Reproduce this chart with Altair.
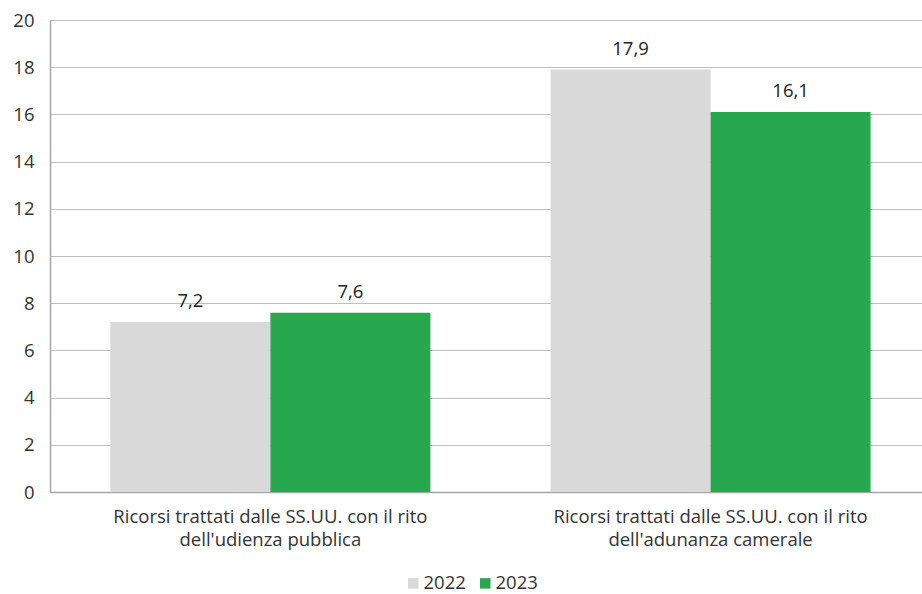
import altair as alt
import pandas as pd

# Ricorsi trattati dalle Sezioni Unite, confronto 2022 / 2023
categorie = [
    "Ricorsi trattati dalle SS.UU. con il rito dell'udienza pubblica",
    "Ricorsi trattati dalle SS.UU. con il rito dell'adunanza camerale",
]
righe_etichetta = [
    ["Ricorsi trattati dalle SS.UU. con il rito", "dell'udienza pubblica"],
    ["Ricorsi trattati dalle SS.UU. con il rito", "dell'adunanza camerale"],
]
anni = ["2022", "2023"]
valori_2022 = [7.2, 17.9]
valori_2023 = [7.6, 16.1]
colori = ["#d9d9d9", "#28a84e"]

righe = []
for i, cat in enumerate(categorie):
    righe.append({"categoria": cat, "anno": "2022", "valore": valori_2022[i]})
    righe.append({"categoria": cat, "anno": "2023", "valore": valori_2023[i]})
df = pd.DataFrame(righe)

FONT = "Open Sans"
TESTO = "#333333"
FS = 18.5

# category labels split on two lines
l0, l1 = righe_etichetta
label_expr = (
    "indexof(datum.value, 'udienza') >= 0 ? "
    "[\"" + l0[0] + "\", \"" + l0[1] + "\"] : "
    "[\"" + l1[0] + "\", \"" + l1[1] + "\"]"
)

x_enc = alt.X(
    "categoria:N",
    sort=categorie,
    title=None,
    scale=alt.Scale(paddingInner=0.273, paddingOuter=0.127, align=0.54),
    axis=alt.Axis(
        labelAngle=0,
        labelExpr=label_expr,
        labelFont=FONT,
        labelFontSize=FS,
        labelColor=TESTO,
        labelPadding=15,
        labelLineHeight=23,
        ticks=False,
        domainColor="#a6a6a6",
        domainWidth=1.5,
        labelLimit=600,
    ),
)

base = alt.Chart(df).encode(
    x=x_enc,
    xOffset=alt.XOffset("anno:N", sort=anni),
)

barre = base.mark_bar().encode(
    y=alt.Y(
        "valore:Q",
        title=None,
        scale=alt.Scale(domain=[0, 20]),
        axis=alt.Axis(
            values=list(range(0, 21, 2)),
            labelFont=FONT,
            labelFontSize=FS,
            labelColor=TESTO,
            labelPadding=16,
            ticks=False,
            domainColor="#a6a6a6",
            domainWidth=1.5,
            gridColor="#bfbfbf",
            gridWidth=1,
        ),
    ),
    color=alt.Color(
        "anno:N",
        sort=anni,
        scale=alt.Scale(domain=anni, range=colori),
        legend=alt.Legend(
            title=None,
            orient="none",
            direction="horizontal",
            legendX=354,
            legendY=554,
            symbolType="square",
            symbolSize=110,
            symbolStrokeWidth=0,
            labelFont=FONT,
            labelFontSize=FS,
            labelColor=TESTO,
            labelOffset=1,
            columnPadding=10,
        ),
    ),
)

testi = base.mark_text(
    baseline="alphabetic", dy=-15, font=FONT, fontSize=FS, color="#222222"
).encode(
    y=alt.Y("valore:Q"),
    text=alt.Text("etichetta:N"),
).transform_calculate(
    etichetta="replace(format(datum.valore, '.1f'), '.', ',')"
)

chart = (
    alt.layer(barre, testi)
    .properties(
        width=872,
        height=472,
        autosize=alt.AutoSizeParams(type="none"),
        padding={"left": 50, "top": 20, "right": 0, "bottom": 102},
    )
    .configure_view(stroke=None)
    .configure(background="white")
)

chart.save("out.html", embed_options={"renderer": "svg", "actions": False})
